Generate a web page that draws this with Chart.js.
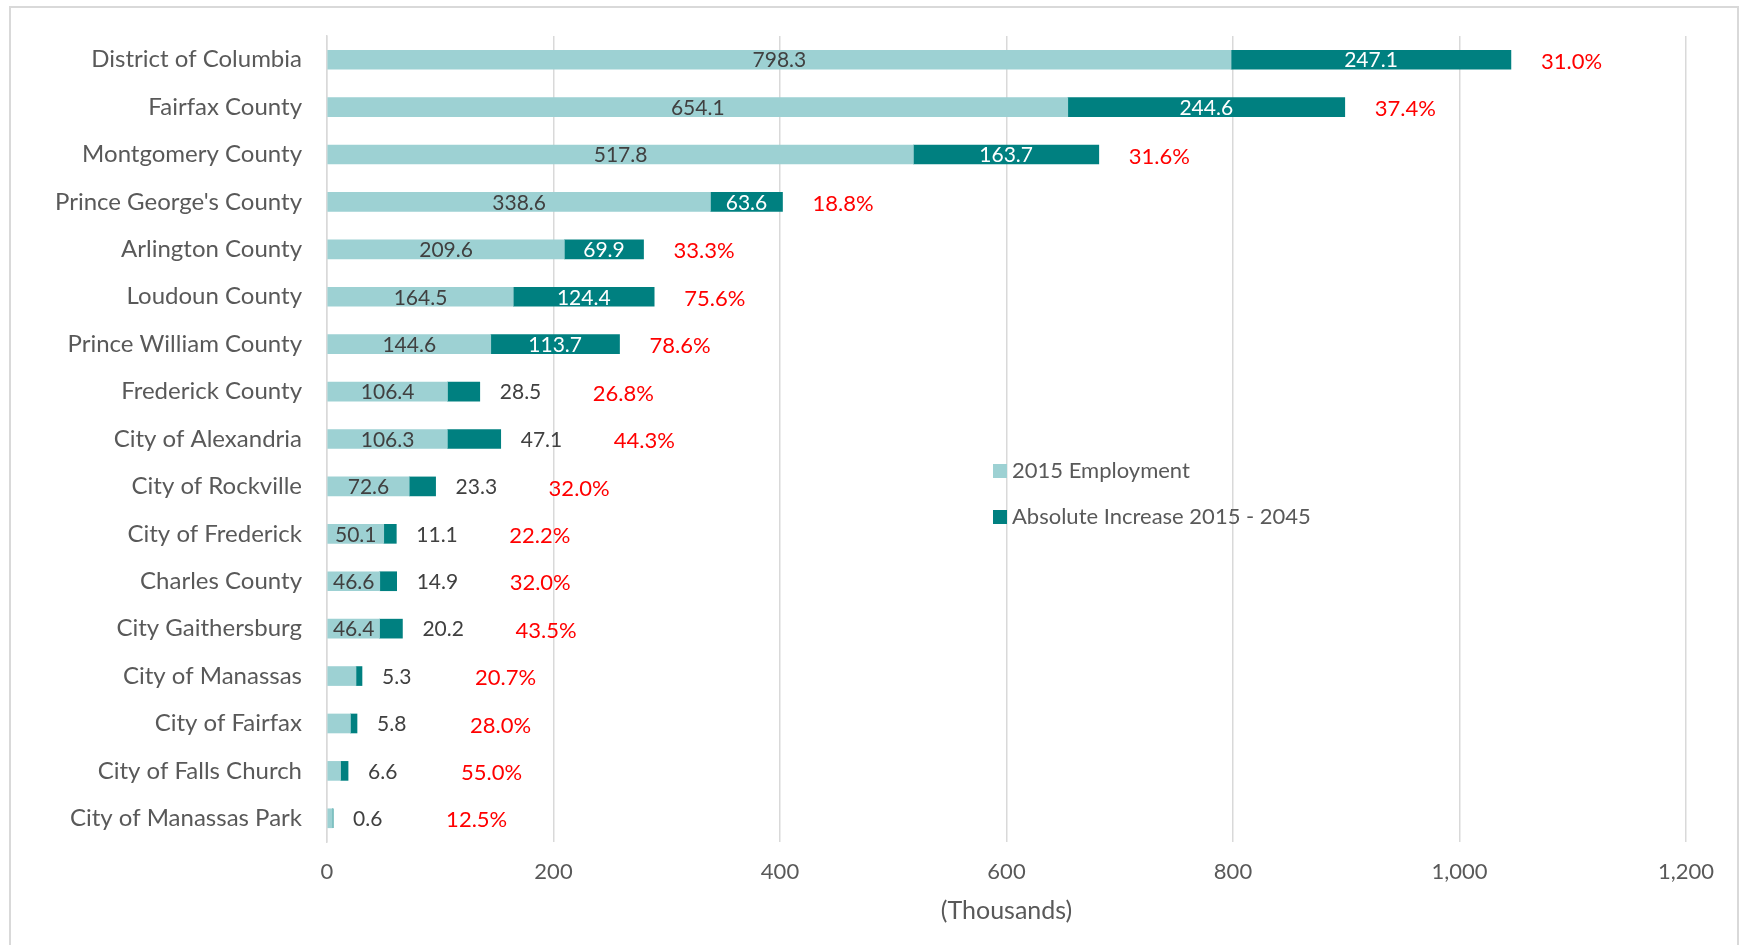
<!DOCTYPE html>
<html>
<head>
<meta charset="utf-8">
<script src="https://cdn.jsdelivr.net/npm/chart.js@4.4.1/dist/chart.umd.min.js"></script>
<style>
  html, body { margin: 0; padding: 0; background: #ffffff; }
  #wrap { width: 1748px; height: 945px; position: relative; }
</style>
</head>
<body>
<div id="wrap"><canvas id="myChart" width="1748" height="945"></canvas></div>
<script>
// values (thousands)
var categories = ["District of Columbia", "Fairfax County", "Montgomery County", "Prince George's County",
    "Arlington County", "Loudoun County", "Prince William County", "Frederick County", "City of Alexandria",
    "City of Rockville", "City of Frederick", "Charles County", "City Gaithersburg", "City of Manassas",
    "City of Fairfax", "City of Falls Church", "City of Manassas Park"];
var employment2015 = [798.3, 654.1, 517.8, 338.6, 209.6, 164.5, 144.6, 106.4, 106.3, 72.6, 50.1, 46.6, 46.4, 25.6, 20.7, 12.0, 4.8];
var increase = [247.1, 244.6, 163.7, 63.6, 69.9, 124.4, 113.7, 28.5, 47.1, 23.3, 11.1, 14.9, 20.2, 5.3, 5.8, 6.6, 0.6];
var pctIncrease = ["31.0%", "37.4%", "31.6%", "18.8%", "33.3%", "75.6%", "78.6%", "26.8%", "44.3%",
    "32.0%", "22.2%", "32.0%", "43.5%", "20.7%", "28.0%", "55.0%", "12.5%"];
var xTicks = [0, 200, 400, 600, 800, 1000, 1200];

var FONT = "Lato";
var lightColor = "#9DD1D3";
var darkColor = "#008080";

var framePlugin = {
    id: 'frame',
    beforeDraw: function(chart) {
        var ctx = chart.ctx;
        ctx.save();
        ctx.fillStyle = "#ffffff";
        ctx.fillRect(0, 0, chart.width, chart.height);
        ctx.strokeStyle = "#D9D9D9";
        ctx.lineWidth = 2;
        ctx.strokeRect(10, 7, 1728, 960);
        ctx.restore();
    }
};

var labelPlugin = {
    id: 'barLabels',
    afterDatasetsDraw: function(chart) {
        var ctx = chart.ctx;
        var meta0 = chart.getDatasetMeta(0);
        var meta1 = chart.getDatasetMeta(1);
        ctx.save();
        ctx.textBaseline = "middle";
        for (var i = 0; i < categories.length; i++) {
            var b0 = meta0.data[i];
            var b1 = meta1.data[i];
            var y = b0.y + 1;
            ctx.font = "21px " + FONT;

            // 2015 value, only when it fits inside the bar
            var t0 = employment2015[i].toFixed(1);
            if (ctx.measureText(t0).width + 4 < b0.x - b0.base) {
                ctx.fillStyle = "#404040";
                ctx.textAlign = "center";
                ctx.fillText(t0, (b0.x + b0.base) / 2, y);
            }

            // increase value: inside in white, or to the right of the bar
            var t1 = increase[i].toFixed(1);
            var end = b1.x;
            var pctX;
            if (ctx.measureText(t1).width + 20 < b1.x - b1.base) {
                ctx.fillStyle = "#ffffff";
                ctx.textAlign = "center";
                ctx.fillText(t1, (b1.x + b1.base) / 2, y);
                pctX = end + 30;
            } else {
                ctx.fillStyle = "#404040";
                ctx.textAlign = "left";
                ctx.fillText(t1, end + 20, y);
                pctX = end + 113;
            }

            ctx.font = "22px " + FONT;
            ctx.fillStyle = "#FF0000";
            ctx.textAlign = "left";
            ctx.fillText(pctIncrease[i], pctX, y + 1);
        }
        ctx.restore();
    }
};

var legendPlugin = {
    id: 'innerLegend',
    afterDraw: function(chart) {
        var ctx = chart.ctx;
        var sets = chart.data.datasets;
        ctx.save();
        ctx.font = "22px " + FONT;
        ctx.textBaseline = "middle";
        ctx.textAlign = "left";
        for (var i = 0; i < sets.length; i++) {
            var y = 471 + i * 46;
            ctx.fillStyle = sets[i].backgroundColor;
            ctx.fillRect(993, y - 7, 14, 14);
            ctx.fillStyle = "#595959";
            ctx.fillText(sets[i].label, 1012, y);
        }
        ctx.restore();
    }
};

function loadChart() {
    var ctx = document.getElementById("myChart").getContext('2d');

    var barData = {
        labels: categories,
        datasets: [{
            label: "2015 Employment",
            backgroundColor: lightColor,
            data: employment2015,
            barThickness: 19
        }, {
            label: "Absolute Increase 2015 - 2045",
            backgroundColor: darkColor,
            data: increase,
            barThickness: 19
        }]
    };

    new Chart(ctx, {
        type: 'bar',
        data: barData,
        plugins: [framePlugin, labelPlugin, legendPlugin],
        options: {
            indexAxis: 'y',
            responsive: false,
            animation: false,
            layout: { padding: { top: 36, right: 62, left: 0, bottom: 0 } },
            plugins: {
                legend: { display: false },
                tooltip: { enabled: false }
            },
            scales: {
                x: {
                    stacked: true,
                    min: 0,
                    max: 1200,
                    afterBuildTicks: function(scale) {
                        scale.ticks = xTicks.map(function(v) { return { value: v }; });
                    },
                    afterFit: function(scale) { scale.height = 103; },
                    grid: { color: "#D9D9D9", lineWidth: 1.5, drawTicks: false },
                    border: { display: false },
                    ticks: {
                        color: "#595959",
                        font: { family: FONT, size: 22 },
                        padding: 17
                    },
                    title: {
                        display: true,
                        text: "(Thousands)",
                        color: "#595959",
                        font: { family: FONT, size: 25 },
                        padding: { top: 0, bottom: 19 }
                    }
                },
                y: {
                    stacked: true,
                    afterFit: function(scale) {
                        scale.width = 327;
                        scale.paddingTop = 0;
                        scale.paddingBottom = 0;
                    },
                    grid: { display: false, drawTicks: false },
                    border: { color: "#D9D9D9", width: 1.5 },
                    ticks: {
                        color: "#595959",
                        font: { family: FONT, size: 24 },
                        padding: 25
                    }
                }
            }
        }
    });
}

loadChart();
</script>
</body>
</html>
